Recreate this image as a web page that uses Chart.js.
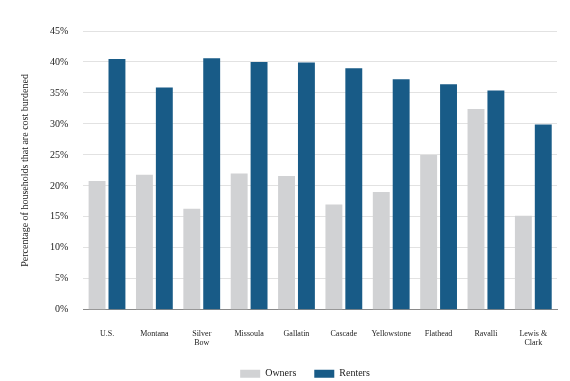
<!DOCTYPE html>
<html>
<head>
<meta charset="utf-8">
<script src="https://cdn.jsdelivr.net/npm/chart.js@4"></script>
<style>
html,body{margin:0;padding:0;background:#fff;}
#wrap{width:570px;height:381px;position:relative;}
</style>
</head>
<body>
<div id="wrap"><canvas id="c" width="570" height="381"></canvas></div>
<script>
const categories = [["U.S."],["Montana"],["Silver","Bow"],["Missoula"],["Gallatin"],["Cascade"],["Yellowstone"],["Flathead"],["Ravalli"],["Lewis &","Clark"]];
const owners = [20.8, 21.8, 16.3, 22.0, 21.6, 17.0, 19.0, 25.0, 32.4, 15.2];
const renters = [40.5, 35.9, 40.6, 40.0, 39.9, 39.0, 37.2, 36.4, 35.4, 29.9];
const yTicks = [0,5,10,15,20,25,30,35,40,45];

const font = "'Liberation Serif', 'DejaVu Serif', serif";
// place the legend row below the category labels, centred a little right of the canvas middle
const legendPlace = {
  id: 'legendPlace',
  afterLayout(chart) {
    const lg = chart.legend;
    if (!lg) return;
    const h = lg.bottom - lg.top;
    lg.left += 19; lg.right += 19;
    lg.top = chart.chartArea.bottom + 41;
    lg.bottom = lg.top + h;
  }
};
new Chart(document.getElementById('c'), {
  type: 'bar',
  data: {
    labels: categories,
    datasets: [
      {label: 'Owners', data: owners, backgroundColor: '#d1d2d4', categoryPercentage: 0.84, barPercentage: 0.85},
      {label: 'Renters', data: renters, backgroundColor: '#185b87', categoryPercentage: 0.84, barPercentage: 0.85}
    ]
  },
  plugins: [legendPlace],
  options: {
    responsive: false,
    animation: false,
    devicePixelRatio: 1,
    layout: {padding: {top: 31, right: 13, left: 15, bottom: -24}},
    plugins: {
      tooltip: {enabled: false},
      legend: {
        position: 'bottom',
        labels: {boxWidth: 20, boxHeight: 8, padding: 18, color: '#222', font: {family: font, size: 10}}
      }
    },
    scales: {
      x: {
        grid: {display: false, drawTicks: false},
        border: {display: true, color: '#8a8a8a', width: 1},
        ticks: {color: '#222', font: {family: font, size: 8}, padding: 19, maxRotation: 0, autoSkip: false}
      },
      y: {
        min: 0, max: 45,
        afterBuildTicks: (axis) => { axis.ticks = yTicks.map(v => ({value: v})); },
        grid: {color: '#e2e2e2', lineWidth: 1, drawTicks: false},
        border: {display: false},
        ticks: {color: '#222', font: {family: font, size: 10}, padding: 15, callback: v => v + '%'},
        title: {display: true, text: 'Percentage of households that are cost burdened', color: '#222', font: {family: font, size: 10}, padding: {bottom: 4}}
      }
    }
  }
});
</script>
</body>
</html>
